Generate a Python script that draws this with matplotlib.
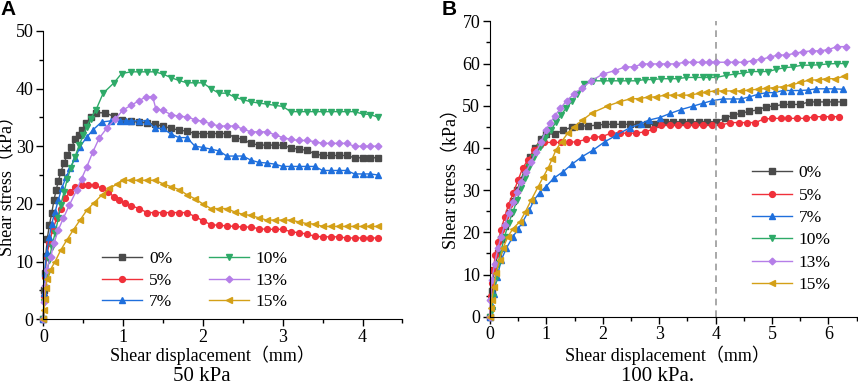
import matplotlib
matplotlib.use("Agg")
import matplotlib.pyplot as plt
from matplotlib.ticker import MultipleLocator

plt.rcParams['font.family'] = ['Liberation Serif', 'Noto Sans CJK SC']
plt.rcParams['font.size'] = 12

# ---------------------------------------------------------------------------
# data
labels = ['0%', '5%', '7%', '10%', '13%', '15%']
colors = ['#4a4a4a', '#f0303a', '#1f6fdc', '#2eaa68', '#b57ee8', '#d4a017']
markers = ['s', 'o', '^', 'v', 'D', '<']

# panel A, normal stress 50 kPa
a_tail_x = [1.1, 1.2, 1.3, 1.4, 1.5, 1.6, 1.7, 1.8, 1.9, 2.0, 2.1, 2.2, 2.3,
            2.4, 2.5, 2.6, 2.7, 2.8, 2.9, 3.0, 3.1, 3.2, 3.3, 3.4, 3.5, 3.6,
            3.7, 3.8, 3.9, 4.0, 4.1, 4.2]

a0_x = [0, 0.01, 0.02, 0.03, 0.05, 0.075, 0.105, 0.134, 0.16, 0.19, 0.22,
        0.26, 0.30, 0.35, 0.40, 0.45, 0.49, 0.54, 0.60, 0.66, 0.77, 0.88, 0.98] + a_tail_x
a0_y = [0, 5.0, 8.0, 11.0, 14.0, 16.3, 18.4, 20.7, 22.4, 24.0, 25.6, 27.1,
        28.5, 29.8, 31.2, 32.0, 32.8, 34.0, 35.0, 35.8, 35.8, 35.2, 34.6,
        34.3, 34.2, 34.0, 33.8, 33.5, 33.1, 32.8, 32.6, 32.2, 32.2, 32.2, 32.2,
        32.2, 31.5, 31.2, 30.5, 30.2, 30.2, 30.2, 30.2, 29.7, 29.5, 29.3, 28.7,
        28.4, 28.4, 28.4, 28.4, 28.0, 28.0, 28.0, 28.0]

a5_x = [0, 0.01, 0.02, 0.04, 0.075, 0.117, 0.167, 0.218, 0.272, 0.335, 0.40,
        0.48, 0.56, 0.65, 0.73, 0.815, 0.886, 0.95, 1.02] + a_tail_x
a5_y = [0, 4.0, 7.4, 10.8, 13.2, 15.5, 17.5, 19.2, 21.0, 22.1, 23.0, 23.3,
        23.3, 23.3, 22.7, 22.1, 21.2, 20.7, 20.2,
        19.7, 19.2, 18.5, 18.5, 18.5, 18.5, 18.5, 18.5, 17.8, 17.1, 16.4, 16.3,
        16.2, 16.1, 16.0, 16.0, 15.7, 15.6, 15.6, 15.6, 15.2, 15.0, 14.8, 14.4,
        14.3, 14.3, 14.3, 14.1, 14.1, 14.1, 14.1, 14.1]

a7_x = [0, 0.01, 0.02, 0.04, 0.075, 0.105, 0.147, 0.188, 0.23, 0.284, 0.335,
        0.397, 0.46, 0.544, 0.627, 0.73, 0.845, 0.96, 1.03] + a_tail_x
a7_y = [0, 4.5, 8.0, 11.5, 14.3, 16.6, 18.6, 20.7, 22.7, 24.6, 26.2, 27.9,
        29.9, 31.6, 32.9, 34.2, 34.4, 34.4, 34.4,
        34.4, 34.4, 34.4, 33.1, 33.1, 32.1, 31.5, 31.5, 30.0, 29.8, 29.5, 29.2,
        28.3, 28.3, 28.3, 27.6, 27.2, 27.1, 26.9, 26.5, 26.5, 26.5, 26.5, 26.5,
        25.8, 25.8, 25.8, 25.8, 25.2, 25.2, 25.2, 25.0]

a10_x = [0, 0.01, 0.02, 0.04, 0.075, 0.105, 0.147, 0.188, 0.218, 0.26, 0.30,
         0.343, 0.397, 0.45, 0.50, 0.544, 0.594, 0.66, 0.75, 0.886, 0.98] + a_tail_x
a10_y = [0, 3.0, 5.5, 7.8, 10.3, 12.6, 14.9, 17.5, 19.8, 22.1, 24.3, 26.2,
         28.2, 30.2, 31.9, 33.4, 34.8, 36.3, 39.2, 41.0, 42.6,
         42.9, 42.9, 42.9, 42.9, 42.5, 41.9, 41.4, 41.0, 41.0, 41.0, 40.0, 39.2,
         39.2, 38.5, 38.1, 37.7, 37.5, 37.3, 37.1, 36.9, 36.0, 36.0, 36.0, 36.0,
         36.0, 36.0, 36.0, 36.0, 36.0, 35.6, 35.5, 35.0]

a13_x = [0, 0.01, 0.02, 0.04, 0.093, 0.134, 0.188, 0.25, 0.326, 0.418, 0.48,
         0.544, 0.62, 0.70, 0.794, 0.90, 1.0, 1.1, 1.2, 1.29, 1.37, 1.41, 1.5,
         1.6, 1.7, 1.8, 1.9, 2.0, 2.1, 2.2, 2.3, 2.4, 2.5, 2.6, 2.7, 2.8, 2.9,
         3.0, 3.1, 3.2, 3.3, 3.4, 3.5, 3.6, 3.7, 3.8, 3.9, 4.0, 4.1, 4.2]
a13_y = [0, 3.0, 5.7, 8.5, 10.8, 13.2, 15.5, 17.5, 19.8, 22.4, 24.4, 26.4,
         29.0, 31.4, 33.1, 34.7, 36.3, 37.1, 37.9, 38.6, 38.6, 36.5, 36.2,
         35.5, 35.2, 35.1, 34.6, 34.3, 33.9, 33.5, 33.5, 33.5, 33.0, 32.5, 32.5,
         32.5, 32.0, 31.5, 31.2, 31.0, 31.0, 30.8, 30.5, 30.5, 30.5, 30.5, 30.0,
         30.0, 30.0, 30.0]

a15_x = [0, 0.01, 0.02, 0.03, 0.05, 0.084, 0.147, 0.218, 0.293, 0.376, 0.46,
         0.544, 0.635, 0.73, 0.827, 0.92, 1.0] + a_tail_x
a15_y = [0, 1.6, 3.5, 5.5, 7.0, 8.5, 10.0, 12.0, 13.7, 15.5, 17.2, 18.9,
         20.2, 21.5, 22.7, 23.4, 24.1,
         24.1, 24.1, 24.1, 24.1, 23.5, 23.0, 22.5, 21.6, 20.9, 20.0, 19.2, 19.2,
         19.2, 18.6, 18.2, 18.0, 17.6, 17.2, 17.2, 17.2, 17.2, 16.9, 16.6, 16.5,
         16.1, 16.1, 16.1, 16.1, 16.1, 16.1, 16.1, 16.1]

# panel B, normal stress 100 kPa
b0_x = [0, 0.03, 0.08, 0.14, 0.20, 0.26, 0.33, 0.41, 0.48, 0.55, 0.62, 0.71,
        0.80, 0.90, 1.0, 1.15, 1.30, 1.45, 1.59, 1.74, 1.89, 2.04, 2.19, 2.34,
        2.48, 2.63, 2.78, 2.93, 3.10, 3.25, 3.40, 3.55, 3.70, 3.85, 4.0, 4.16,
        4.31, 4.45, 4.60, 4.75, 4.90, 5.04, 5.19, 5.34, 5.50, 5.65, 5.80, 5.95,
        6.10, 6.25]
b0_y = [0, 6.0, 11.0, 15.0, 18.5, 21.5, 24.5, 27.5, 30.0, 32.5, 35.0, 37.9,
        40.0, 42.0, 43.3, 43.3, 44.2, 44.9, 45.2, 45.2, 45.4, 45.6, 45.6, 45.6,
        45.6, 45.6, 45.6, 45.6, 46.2, 46.2, 46.2, 46.2, 46.2, 46.2, 46.2, 47.0,
        47.8, 48.2, 48.7, 49.0, 49.8, 49.9, 50.3, 50.3, 50.3, 50.9, 50.9, 50.9,
        50.9, 50.9]

b5_x = [0, 0.02, 0.04, 0.06, 0.094, 0.14, 0.20, 0.26, 0.33, 0.41, 0.50, 0.58,
        0.67, 0.79, 0.88, 0.96, 1.11, 1.26, 1.40, 1.55, 1.70, 1.84, 1.99, 2.15,
        2.30, 2.45, 2.59, 2.74, 2.89, 3.04, 3.19, 3.34, 3.49, 3.63, 3.78, 3.94,
        4.10, 4.26, 4.41, 4.55, 4.70, 4.85, 5.0, 5.15, 5.29, 5.44, 5.61, 5.75,
        5.90, 6.05, 6.19]
b5_y = [0, 5.0, 8.0, 11.1, 14.6, 17.8, 20.5, 23.7, 26.5, 29.2, 32.4, 35.2,
        37.1, 39.5, 40.8, 41.3, 41.3, 41.3, 41.3, 41.5, 42.0, 42.5, 42.7, 43.5,
        43.5, 43.5, 43.5, 43.8, 44.4, 45.4, 45.4, 45.4, 45.4, 45.4, 45.4, 45.4,
        45.4, 46.0, 46.0, 46.0, 46.0, 46.8, 47.0, 47.0, 47.0, 47.0, 47.0, 47.4,
        47.4, 47.4, 47.4]

b7_x = [0, 0.03, 0.07, 0.13, 0.20, 0.29, 0.41, 0.50, 0.58, 0.70, 0.78, 0.88,
        0.99, 1.13, 1.30, 1.46, 1.63, 1.83, 2.04, 2.24, 2.48, 2.67, 2.82, 3.01,
        3.20, 3.39, 3.60, 3.78, 3.94, 4.13, 4.31, 4.45, 4.60, 4.75, 4.90, 5.04,
        5.19, 5.34, 5.49, 5.63, 5.78, 5.96, 6.10, 6.25]
b7_y = [0, 2.5, 5.5, 9.5, 13.4, 16.2, 19.0, 20.8, 22.5, 25.3, 27.6, 29.4,
        30.8, 32.8, 34.4, 36.2, 37.9, 39.5, 41.5, 43.0, 44.8, 45.7, 46.6, 47.2,
        48.2, 49.1, 49.9, 50.6, 51.2, 51.6, 51.6, 51.6, 52.1, 52.7, 53.1, 53.1,
        53.6, 53.6, 53.6, 53.7, 54.0, 54.0, 54.0, 53.9]

b10_x = [0, 0.03, 0.06, 0.094, 0.14, 0.20, 0.26, 0.33, 0.41, 0.48, 0.55, 0.63,
         0.70, 0.79, 0.88, 0.97, 1.085, 1.17, 1.26, 1.35, 1.45, 1.55, 1.66,
         1.83, 2.0, 2.15, 2.30, 2.45, 2.60, 2.74, 2.89, 3.04, 3.19, 3.33, 3.48,
         3.63, 3.78, 3.88, 4.01, 4.19, 4.34, 4.48, 4.63, 4.78, 4.93, 5.07, 5.22,
         5.37, 5.53, 5.69, 5.84, 5.99, 6.15, 6.30]
b10_y = [0, 1.5, 4.7, 8.7, 12.6, 15.8, 19.0, 22.1, 24.9, 27.6, 30.4, 32.8,
         35.5, 37.9, 40.3, 42.3, 44.2, 46.2, 47.8, 49.4, 51.0, 52.7, 55.1,
         55.9, 55.9, 55.9, 55.9, 55.9, 55.9, 56.2, 56.2, 56.4, 56.4, 56.4, 56.7,
         56.7, 56.7, 56.7, 56.7, 57.2, 57.5, 57.7, 58.1, 58.1, 58.1, 58.6, 59.0,
         59.2, 59.6, 59.6, 59.7, 59.9, 60.0, 60.0]

b13_x = [0, 0.01, 0.035, 0.083, 0.14, 0.20, 0.26, 0.33, 0.41, 0.48, 0.55,
         0.64, 0.73, 0.82, 0.91, 0.99, 1.07, 1.15, 1.25, 1.36, 1.49, 1.64,
         1.80, 2.0, 2.21, 2.40, 2.55, 2.70, 2.84, 3.0, 3.14, 3.30, 3.45, 3.60,
         3.75, 3.88, 4.01, 4.20, 4.35, 4.51, 4.66, 4.81, 4.96, 5.10, 5.25, 5.40,
         5.55, 5.71, 5.85, 6.0, 6.15, 6.31]
b13_y = [0, 4.0, 8.7, 12.6, 16.2, 19.0, 21.7, 24.5, 27.3, 29.6, 32.0, 34.4,
         36.7, 39.1, 41.5, 44.2, 46.0, 47.6, 49.4, 51.2, 52.8, 54.3, 55.9, 57.5,
         58.3, 59.2, 59.2, 59.9, 59.9, 59.9, 59.9, 59.9, 60.3, 60.3, 60.3, 60.3,
         60.3, 60.3, 60.3, 60.3, 60.7, 61.0, 61.5, 62.0, 62.0, 62.4, 62.8, 63.0,
         63.0, 63.3, 64.0, 64.0]

b15_x = [0, 0.02, 0.035, 0.07, 0.11, 0.17, 0.23, 0.32, 0.41, 0.53, 0.63, 0.73,
         0.85, 0.94, 1.03, 1.10, 1.17, 1.27, 1.38, 1.49, 1.64, 1.81, 2.08,
         2.29, 2.48, 2.64, 2.80, 2.95, 3.10, 3.24, 3.39, 3.54, 3.70, 3.83, 3.98,
         4.13, 4.31, 4.45, 4.60, 4.75, 4.90, 5.04, 5.19, 5.34, 5.50, 5.66, 5.81,
         5.96, 6.12, 6.28]
b15_y = [0, 2.0, 4.0, 7.1, 10.3, 13.4, 16.2, 19.0, 20.9, 22.5, 24.9, 27.6,
         30.7, 33.0, 35.2, 37.3, 39.5, 41.5, 43.5, 45.0, 46.6, 48.3, 49.9,
         50.9, 51.6, 51.7, 52.0, 52.1, 52.5, 52.5, 52.5, 52.5, 52.9, 53.2, 53.5,
         53.5, 53.5, 53.5, 53.7, 53.9, 54.1, 54.3, 54.5, 54.9, 55.5, 56.1, 56.1,
         56.4, 56.4, 57.0]

series_a = [(a0_x, a0_y), (a5_x, a5_y), (a7_x, a7_y),
            (a10_x, a10_y), (a13_x, a13_y), (a15_x, a15_y)]
series_b = [(b0_x, b0_y), (b5_x, b5_y), (b7_x, b7_y),
            (b10_x, b10_y), (b13_x, b13_y), (b15_x, b15_y)]


# ---------------------------------------------------------------------------
#
def style_axes(ax, xmax, ymax, ystep):
    for side in ('top', 'right'):
        ax.spines[side].set_visible(False)
    ax.set_xlim(0, xmax)
    ax.set_ylim(0, ymax)
    ax.xaxis.set_major_locator(MultipleLocator(1))
    ax.xaxis.set_minor_locator(MultipleLocator(0.5))
    ax.yaxis.set_major_locator(MultipleLocator(ystep))
    ax.yaxis.set_minor_locator(MultipleLocator(ystep / 2))
    ax.tick_params(which='major', direction='out', length=5, width=1,
                   labelsize=13, pad=2)
    ax.tick_params(which='minor', direction='out', length=3, width=1)


def draw(ax, series):
    for (x, y), lab, c, m in zip(series, labels, colors, markers):
        ms = 3.4 if m == 'D' else 4.2
        ax.plot(x, y, color=c, marker=m, markersize=ms, linewidth=1.0,
                label=lab, clip_on=False)


fig = plt.figure(figsize=(8.58, 3.86), dpi=100)

axA = fig.add_axes([0.0505, 0.1728, 0.4185, 0.7472])
draw(axA, series_a)
style_axes(axA, 4.5, 50, 10)
axA.set_ylabel('Shear stress（kPa）', fontsize=13)
axA.yaxis.set_label_coords(-0.074, 0.477)
axA.set_xlabel('Shear displacement（mm）', fontsize=13)
axA.xaxis.set_label_coords(0.472, -0.092)
axA.legend(ncol=2, frameon=False, fontsize=12.5, loc='upper left',
           bbox_to_anchor=(0.12, 0.29), handlelength=2.3,
           handletextpad=0.4, columnspacing=2.1, labelspacing=0.3)

axB = fig.add_axes([0.571, 0.1795, 0.4275, 0.7653])
draw(axB, series_b)
style_axes(axB, 6.5, 70, 10)
axB.axvline(4, color='#999999', linestyle=(0, (4, 3)), linewidth=1.2)
axB.set_ylabel('Shear stress（kPa）', fontsize=13)
axB.yaxis.set_label_coords(-0.08, 0.48)
axB.set_xlabel('Shear displacement（mm）', fontsize=13)
axB.xaxis.set_label_coords(0.483, -0.097)
axB.legend(ncol=1, frameon=False, fontsize=12.5, loc='upper left',
           bbox_to_anchor=(0.671, 0.566), handlelength=2.3,
           handletextpad=0.4, labelspacing=0.36)

fig.text(0.235, 0.014, '50 kPa', fontsize=15, ha='center', va='baseline')
fig.text(0.766, 0.014, '100 kPa.', fontsize=15, ha='center', va='baseline')
fig.text(0.0, 1.0, 'A', fontsize=15, fontweight='bold', ha='left', va='top',
         family='Liberation Sans')
fig.text(0.515, 1.0, 'B', fontsize=15, fontweight='bold', ha='left', va='top',
         family='Liberation Sans')

fig.savefig('out.png', dpi=100)
